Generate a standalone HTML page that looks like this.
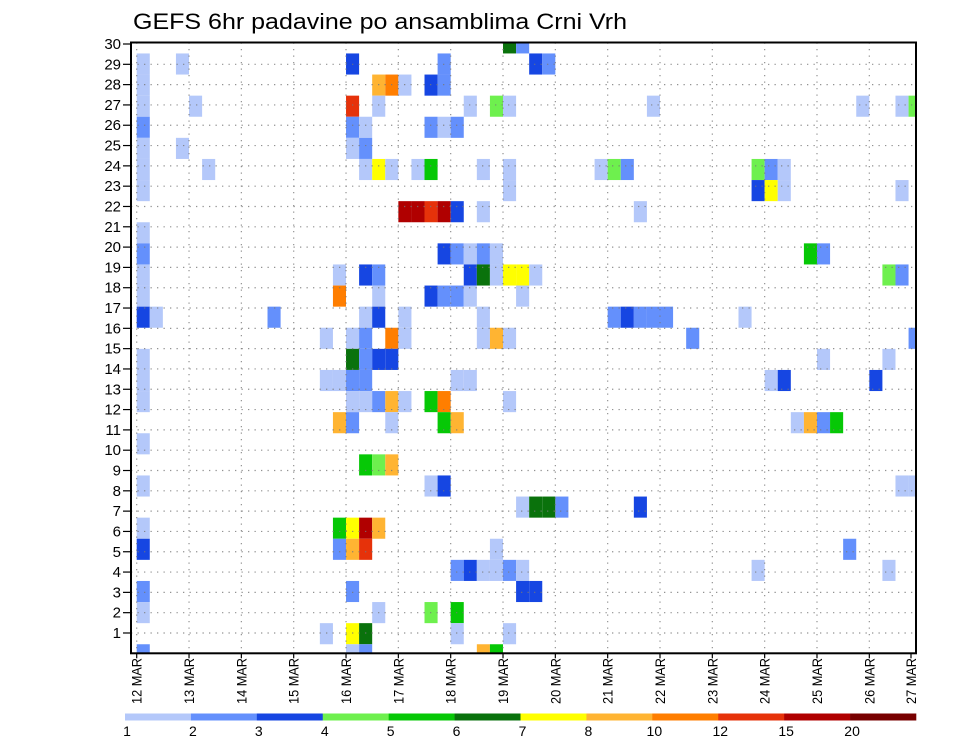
<!DOCTYPE html>
<html><head><meta charset="utf-8"><title>GEFS 6hr padavine</title>
<style>html,body{margin:0;padding:0;background:#fff;}svg{display:block;font-family:"Liberation Sans",sans-serif;}</style>
</head><body>
<svg id="chart" width="960" height="742" viewBox="0 0 960 742"></svg>
<script>
// ---- data ----
const dayLabels = ["12 MAR","13 MAR","14 MAR","15 MAR","16 MAR","17 MAR","18 MAR","19 MAR","20 MAR","21 MAR","22 MAR","23 MAR","24 MAR","25 MAR","26 MAR","27 MAR"];
const memberLabels = [1,2,3,4,5,6,7,8,9,10,11,12,13,14,15,16,17,18,19,20,21,22,23,24,25,26,27,28,29,30];
const levelBounds = [1,2,3,4,5,6,7,8,10,12,15,20];
const levelColors = ["#b4c8fa","#6490fc","#1646e2","#6ef04e","#06c806","#0a720c","#ffff00","#ffb432","#ff7e00","#e6320a","#b00000","#780000"];
// cells: 6-hour step index, member index, precipitation (mm)
const timeIdx = [28,29, 0,3,16,23,30,31, 0,18,19,20,22,23, 0,4,16,18,25,27,28,39,55,58,59, 0,16,17,22,23,24, 0,3,16,17,
 0,5,17,18,19,21,22,26,28,35,36,37,47,48,49, 0,28,47,48,49,58, 20,21,22,23,24,26,38, 0, 0,23,24,25,26,27,51,52,
 0,15,17,18,25,26,27,28,29,30,57,58, 0,15,18,22,23,24,25,29, 0,1,10,17,18,20,26,36,37,38,39,40,46,
 14,16,17,19,20,26,27,28,42,59, 0,16,17,18,19,52,57, 0,14,15,16,17,24,25,48,49,56, 0,16,17,18,19,20,22,23,28,
 15,16,19,23,24,50,51,52,53, 0, 17,18,19, 0,22,23,58,59, 29,30,31,32,38, 0,15,16,17,18, 0,15,16,17,27,54,
 24,25,26,27,28,29,47,57, 0,16,29,30, 0,18,22,24, 14,16,17,24,28, 0,16,17,26,27];
const member = [29,29, 28,28,28,28,28,28, 27,27,27,27,27,27, 26,26,26,26,26,26,26,26,26,26,26, 25,25,25,25,25,25, 24,24,24,24,
 23,23,23,23,23,23,23,23,23,23,23,23,23,23,23, 22,22,22,22,22,22, 21,21,21,21,21,21,21, 20, 19,19,19,19,19,19,19,19,
 18,18,18,18,18,18,18,18,18,18,18,18, 17,17,17,17,17,17,17,17, 16,16,16,16,16,16,16,16,16,16,16,16,16,
 15,15,15,15,15,15,15,15,15,15, 14,14,14,14,14,14,14, 13,13,13,13,13,13,13,13,13,13, 12,12,12,12,12,12,12,12,12,
 11,11,11,11,11,11,11,11,11, 10, 9,9,9, 8,8,8,8,8, 7,7,7,7,7, 6,6,6,6,6, 5,5,5,5,5,5,
 4,4,4,4,4,4,4,4, 3,3,3,3, 2,2,2,2, 1,1,1,1,1, 0,0,0,0,0];
const precip = [6.5,2.5, 1.5,1.5,3.5,2.5,3.5,2.5, 1.5,9,11,1.5,3.5,2.5, 1.5,1.5,13,1.5,1.5,4.5,1.5,1.5,1.5,1.5,4.5, 2.5,2.5,1.5,2.5,1.5,2.5, 1.5,1.5,1.5,2.5,
 1.5,1.5,1.5,7.5,1.5,1.5,5.5,1.5,1.5,1.5,4.5,2.5,4.5,2.5,1.5, 1.5,1.5,3.5,7.5,1.5,1.5, 17,17,13,17,3.5,1.5,1.5, 1.5, 2.5,3.5,2.5,1.5,2.5,1.5,5.5,2.5,
 1.5,1.5,3.5,2.5,3.5,6.5,1.5,7.5,7.5,1.5,4.5,2.5, 1.5,11,1.5,3.5,2.5,2.5,1.5,1.5, 3.5,1.5,2.5,1.5,3.5,1.5,1.5,2.5,3.5,2.5,2.5,2.5,1.5,
 1.5,1.5,2.5,11,1.5,1.5,9,1.5,2.5,2.5, 1.5,6.5,2.5,3.5,3.5,1.5,1.5, 1.5,1.5,1.5,2.5,2.5,1.5,1.5,1.5,3.5,3.5, 1.5,1.5,1.5,2.5,9,1.5,5.5,11,1.5,
 9,2.5,1.5,5.5,9,1.5,9,2.5,5.5, 1.5, 5.5,4.5,9, 1.5,1.5,3.5,1.5,1.5, 1.5,6.5,6.5,2.5,3.5, 1.5,5.5,7.5,17,9, 3.5,2.5,9,13,1.5,2.5,
 2.5,3.5,1.5,1.5,2.5,1.5,1.5,1.5, 2.5,2.5,3.5,3.5, 1.5,1.5,4.5,5.5, 1.5,7.5,6.5,1.5,1.5, 2.5,1.5,2.5,9,5.5];

// ---- geometry ----
const L=131, R=916, T=42.5, B=653.3;
const DAY=52.33;
const NS="http://www.w3.org/2000/svg";
const svg=document.getElementById('chart');
function xDay(d){return 136.7 + d*DAY;}
function xStep(i){return xDay(i/4);}
function yLabel(r){return 653.3 - r*20.31;}
function yMember(k){return 654.8 - k*21.1;}
function colorFor(v){let c=levelColors[0];for(let i=0;i<levelBounds.length;i++){if(v>=levelBounds[i])c=levelColors[i];}return c;}
function mk(tag,attrs,parent){const e=document.createElementNS(NS,tag);for(const k in attrs)e.setAttribute(k,attrs[k]);(parent||svg).appendChild(e);return e;}

// title
const title=mk('text',{x:133,y:29,'font-size':22,fill:'#000',textLength:494,lengthAdjust:'spacingAndGlyphs'});
title.textContent="GEFS 6hr padavine po ansamblima Crni Vrh";



// clip
const defs=mk('defs',{});
const cp=mk('clipPath',{id:'plotclip'},defs);
mk('rect',{x:L,y:T,width:R-L,height:B-T},cp);

// cells
const cellG=mk('g',{'clip-path':'url(#plotclip)'});


const cw=DAY/4, ch=21.1;
for(let i=0;i<timeIdx.length;i++){
  const r=mk('rect',{x:xStep(timeIdx[i]).toFixed(2),y:(yMember(member[i])-ch/2).toFixed(2),width:cw.toFixed(2),height:ch.toFixed(2),fill:colorFor(precip[i])},cellG);
  
  
}

// grid
const gridG=mk('g',{stroke:'#777','stroke-width':1.2,'stroke-dasharray':'1.3,5.2','stroke-opacity':0.8});


for(let r=1;r<memberLabels.length;r++){
  const y=yLabel(memberLabels[r-1]);
  mk('line',{x1:L,x2:R,y1:y,y2:y},gridG);
}
for(let d=0;d<dayLabels.length-1;d++){
  const x=xDay(d);
  mk('line',{x1:x,x2:x,y1:T,y2:B},gridG);
}

// frame
const frame=mk('rect',{x:L,y:T,width:R-L,height:B-T,fill:'none',stroke:'#000','stroke-width':2});



// y axis
const yG=mk('g',{'font-size':15,fill:'#000'});


for(const m of memberLabels){
  const y=yLabel(m);
  mk('line',{x1:123,x2:L,y1:y,y2:y,stroke:'#000','stroke-width':1.2},yG);
  const t=mk('text',{x:121,y:y+5,'text-anchor':'end'},yG);
  t.textContent=m;
  
  
}

// x axis
const xG=mk('g',{'font-size':14,fill:'#000'});


for(let d=0;d<dayLabels.length;d++){
  const x=Math.min(xDay(d),R-5);
  mk('line',{x1:x,x2:x,y1:B,y2:B+5,stroke:'#000','stroke-width':1.2},xG);
  const t=mk('text',{transform:`translate(${(x+5).toFixed(1)},658) rotate(-90)`,'text-anchor':'end',textLength:46,lengthAdjust:'spacingAndGlyphs'},xG);
  t.textContent=dayLabels[d];
  
  
}

// colorbar
const cbG=mk('g',{});


const cbX0=125, cbW=(916-125)/levelColors.length;
for(let i=0;i<levelColors.length;i++){
  const s=mk('rect',{x:(cbX0+i*cbW).toFixed(2),y:713.5,width:(cbW+0.3).toFixed(2),height:7,fill:levelColors[i]},cbG);
  
  
  const t=mk('text',{x:(cbX0+i*cbW+2).toFixed(2),y:736,'font-size':14,'text-anchor':'middle',fill:'#000'},cbG);
  t.textContent=levelBounds[i];
  
  
}
</script>
</body></html>
